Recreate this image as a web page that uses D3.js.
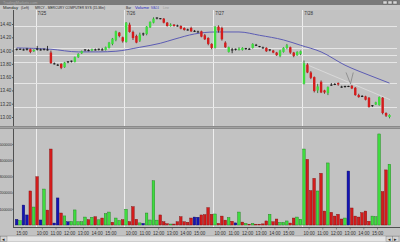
<!DOCTYPE html>
<html lang="en">
<head>
<meta charset="UTF-8">
<script src="https://cdn.jsdelivr.net/npm/d3@7"></script>
<title>MRCY 15-Min</title>
<style>
body { margin: 0; background: #c2c2c2; }
svg { display: block; font-family: "Liberation Sans Narrow", "Liberation Sans", Arial, sans-serif; }
</style>
</head>
<body>
<svg id="chart" width="400" height="242"></svg>
<script>
// --- data ---
let days = ['7/24', '7/25', '7/26', '7/27', '7/28']
let barsPerDay = [6, 26, 26, 26, 26]
let dayStartMin = [14 * 60 + 30, 9 * 60 + 30, 9 * 60 + 30, 9 * 60 + 30, 9 * 60 + 30]
let hourLabels = ['10:00', '11:00', '12:00', '13:00', '14:00', '15:00']

let open = [
	14.01, 14.02, 14.02, 14.01, 14.02, 13.99,
	14.01, 14.02, 14.01, 14.02, 13.97, 13.81, 13.79, 13.80, 13.75, 13.82, 13.83, 13.83, 13.90, 13.96, 14.00, 14.01, 14.00, 14.02, 14.01, 14.02, 14.01, 14.04, 14.10, 14.16, 14.27, 14.20,
	14.13, 14.39, 14.28, 14.22, 14.15, 14.24, 14.25, 14.35, 14.42, 14.48, 14.48, 14.48, 14.42, 14.37, 14.39, 14.38, 14.37, 14.34, 14.31, 14.34, 14.29, 14.29, 14.29, 14.23, 14.19, 14.10,
	14.04, 14.36, 14.34, 14.12, 13.98, 14.01, 14.02, 14.01, 14.01, 14.03, 14.03, 14.04, 14.09, 14.07, 14.05, 14.04, 14.00, 14.00, 13.97, 13.92, 13.98, 14.04, 14.05, 13.97, 13.93, 13.95,
	13.50, 13.79, 13.67, 13.60, 13.40, 13.53, 13.40, 13.36, 13.49, 13.50, 13.51, 13.46, 13.45, 13.46, 13.47, 13.44, 13.33, 13.32, 13.31, 13.29, 13.16, 13.19, 13.18, 13.29, 13.06, 13.00
]
let close = [
	14.02, 14.02, 14.01, 14.02, 13.98, 14.01,
	14.02, 14.01, 14.02, 14.01, 13.81, 13.80, 13.78, 13.74, 13.82, 13.83, 13.84, 13.90, 13.95, 13.99, 14.01, 14.00, 14.02, 14.01, 14.02, 14.01, 14.05, 14.12, 14.18, 14.29, 14.22, 14.14,
	14.42, 14.28, 14.19, 14.12, 14.24, 14.25, 14.36, 14.43, 14.48, 14.49, 14.48, 14.42, 14.37, 14.39, 14.37, 14.37, 14.33, 14.31, 14.31, 14.29, 14.29, 14.28, 14.21, 14.17, 14.10, 14.04,
	14.36, 14.30, 14.17, 14.05, 14.05, 14.01, 14.02, 14.03, 14.04, 14.03, 14.02, 14.10, 14.08, 14.06, 14.04, 13.99, 14.01, 13.97, 13.93, 14.00, 14.04, 14.08, 13.97, 13.92, 13.98, 13.99,
	13.81, 13.67, 13.59, 13.39, 13.46, 13.37, 13.37, 13.45, 13.48, 13.49, 13.49, 13.45, 13.46, 13.46, 13.43, 13.33, 13.30, 13.31, 13.26, 13.15, 13.17, 13.22, 13.30, 13.06, 13.02, 13.03
]
let high = [
	14.03, 14.03, 14.03, 14.04, 14.03, 14.02,
	14.07, 14.03, 14.03, 14.07, 14.00, 13.82, 13.80, 13.81, 13.83, 13.84, 13.85, 13.91, 13.96, 14.00, 14.02, 14.02, 14.03, 14.03, 14.03, 14.04, 14.06, 14.13, 14.19, 14.30, 14.28, 14.21,
	14.43, 14.42, 14.30, 14.24, 14.27, 14.27, 14.37, 14.44, 14.50, 14.50, 14.49, 14.49, 14.43, 14.41, 14.40, 14.39, 14.38, 14.35, 14.33, 14.36, 14.31, 14.30, 14.30, 14.25, 14.20, 14.11,
	14.37, 14.38, 14.36, 14.14, 14.06, 14.04, 14.03, 14.05, 14.05, 14.04, 14.04, 14.11, 14.10, 14.07, 14.06, 14.05, 14.02, 14.01, 13.98, 14.01, 14.05, 14.10, 14.06, 13.98, 13.99, 14.00,
	13.85, 13.81, 13.69, 13.61, 13.50, 13.55, 13.41, 13.46, 13.51, 13.51, 13.52, 13.47, 13.47, 13.47, 13.48, 13.45, 13.35, 13.33, 13.32, 13.30, 13.18, 13.23, 13.31, 13.30, 13.07, 13.04
]
let low = [
	14.00, 14.01, 14.00, 14.00, 13.96, 13.98,
	14.00, 14.00, 14.00, 14.00, 13.80, 13.79, 13.77, 13.72, 13.74, 13.81, 13.82, 13.82, 13.89, 13.95, 13.99, 13.99, 13.99, 14.00, 14.00, 14.00, 14.00, 14.03, 14.08, 14.14, 14.20, 14.12,
	14.12, 14.27, 14.16, 14.11, 14.13, 14.22, 14.23, 14.34, 14.41, 14.47, 14.47, 14.41, 14.36, 14.36, 14.36, 14.36, 14.32, 14.30, 14.30, 14.28, 14.28, 14.27, 14.20, 14.16, 14.08, 14.02,
	14.03, 14.27, 14.15, 14.04, 13.97, 13.96, 14.00, 14.00, 14.00, 14.01, 14.01, 14.03, 14.07, 14.05, 14.03, 13.98, 13.99, 13.96, 13.92, 13.90, 13.97, 14.02, 13.95, 13.90, 13.92, 13.93,
	13.49, 13.66, 13.57, 13.37, 13.36, 13.36, 13.35, 13.33, 13.47, 13.48, 13.47, 13.44, 13.44, 13.45, 13.42, 13.32, 13.29, 13.30, 13.25, 13.14, 13.15, 13.18, 13.17, 13.04, 13.00, 12.98
]
let volume = [
	35000, 27000, 123000, 62000, 210000, 111000,
	298000, 31000, 222000, 92000, 469000, 12000, 167000, 74000, 56000, 20000, 22000, 93000, 20000, 20000, 49000, 33000, 48000, 51000, 32000, 43000, 70000, 80000, 17000, 43000, 28000, 33000,
	97000, 21000, 113000, 35000, 13000, 10000, 74000, 31000, 273000, 30000, 62000, 20000, 8000, 6000, 6000, 20000, 51000, 20000, 17000, 43000, 49000, 48000, 62000, 64000, 107000, 66000,
	68000, 10000, 55000, 30000, 46000, 23000, 13000, 80000, 18000, 10000, 5000, 10000, 5000, 5000, 7000, 25000, 66000, 20000, 37000, 16000, 16000, 25000, 12000, 43000, 49000, 35000,
	469000, 405000, 212000, 288000, 210000, 319000, 86000, 383000, 78000, 55000, 66000, 37000, 43000, 333000, 105000, 55000, 49000, 76000, 86000, 23000, 55000, 51000, 562000, 206000, 340000, 375000
]
// g = up, r = down, b = unchanged
let volColor = ('bgbbrg' + 'rbgrrbbrgbgggggrgrgrggrggr' + 'grrrgbggggrrrgrrrrrrbbrrrr' +
	'grrrgrbgrgrgrrrrgrrgggrrgg' + 'grrrgrrgrrrrgbrrrrrrgggrrg').split('')

// moving average read at a few bars
let maBar = [0, 10, 18, 24, 29, 36, 42, 46, 52, 58, 65, 71, 78, 83, 89, 96, 103, 109]
let maVal = [14.04, 14.02, 13.98, 13.98, 13.99, 14.05, 14.11, 14.17, 14.25, 14.28, 14.28, 14.23, 14.16, 14.08, 13.98, 13.78, 13.63, 13.51]

// drawn horizontal levels and lines
let levels = [14.37, 14.04, 13.93, 13.83, 13.51, 13.15]
let trendLine = [[84.3, 13.81], [109.7, 13.26]]
let vMark = [[96.8, 13.67], [98.1, 13.50], [98.9, 13.67]]

let priceTicks = [13.00, 13.20, 13.40, 13.60, 13.80, 14.00, 14.20, 14.40]
let volTicks = [100000, 200000, 300000, 400000, 500000]

// --- drawing ---
let N = open.length
let svg = d3.select('#chart')
let fnt = 4.5

let x = d3.scaleLinear().domain([0, N]).range([15, 391.2])
let y = d3.scaleLinear().domain([13, 14.4]).range([117, 24])
let yv = d3.scaleLinear().domain([0, 500000]).range([225, 144])
let bw = x(1) - x(0)

let green = '#3fdc3f', red = '#d41c1c', blue = '#1414b4'
let cols = { g: green, r: red, b: blue }
let dark = { g: '#1b7a1b', r: '#7a0c0c', b: '#0a0a60' }

svg.append('rect').attr('width', 400).attr('height', 242).attr('fill', '#c2c2c2')

// title strip
svg.append('rect').attr('width', 400).attr('height', 5).attr('fill', '#7c7c7c')
svg.append('text').attr('x', 3).attr('y', 4).attr('font-size', 3.8).attr('fill', '#a8a8a8')
	.text('TradingMarkets.com')
;[383, 388, 393].forEach(function (bx) {
	svg.append('rect').attr('x', bx).attr('y', 1).attr('width', 4).attr('height', 3)
		.attr('fill', '#d8d8d8').attr('stroke', '#555').attr('stroke-width', 0.4)
})
svg.append('rect').attr('y', 5).attr('width', 400).attr('height', 5).attr('fill', '#c8c8c8')
let head = [
	{ t: 'Monday', x: 3, w: 15, c: '#222' },
	{ t: '(Left)', x: 21, w: 8, c: '#222' },
	{ t: 'MRCY - MERCURY COMPUTER SYS (15-Min)', x: 35, w: 70, c: '#222' },
	{ t: 'Bar', x: 126, w: 5, c: '#222' },
	{ t: 'Volume', x: 135, w: 14, c: '#2020c0' },
	{ t: 'MA24', x: 151, w: 8, c: '#5050c0' },
	{ t: 'Line', x: 163, w: 6, c: '#9a9a9a' }
]
head.forEach(function (h) {
	svg.append('text').attr('x', h.x).attr('y', 9.2).attr('font-size', 4).attr('fill', h.c)
		.attr('textLength', h.w).attr('lengthAdjust', 'spacingAndGlyphs').text(h.t)
})

// panels
let defs = svg.append('defs')
defs.append('clipPath').attr('id', 'cp').append('rect')
	.attr('x', 14).attr('y', 10).attr('width', 383).attr('height', 116)
defs.append('clipPath').attr('id', 'cv').append('rect')
	.attr('x', 14).attr('y', 129).attr('width', 383).attr('height', 98)

// day boundaries
let dayFirst = []
let acc = 0
barsPerDay.forEach(function (n) { dayFirst.push(acc); acc += n })

let grid = svg.append('g').attr('stroke', '#eeeeee').attr('stroke-width', 1)
dayFirst.slice(1).forEach(function (i) {
	let xx = Math.round(x(i)) + 0.5
	grid.append('line').attr('x1', xx).attr('x2', xx).attr('y1', 10).attr('y2', 126)
	grid.append('line').attr('x1', xx).attr('x2', xx).attr('y1', 129).attr('y2', 227)
})
dayFirst.slice(1).forEach(function (i, k) {
	svg.append('text').attr('x', x(i) + 2).attr('y', 14.5).attr('font-size', fnt)
		.attr('fill', '#333').text(days[k + 1])
})

let pp = svg.append('g').attr('clip-path', 'url(#cp)')
levels.forEach(function (v) {
	let yy = Math.round(y(v)) + 0.5
	pp.append('line').attr('x1', 14).attr('x2', 397).attr('y1', yy).attr('y2', yy)
		.attr('stroke', '#e6e6e6').attr('stroke-width', 1)
})
pp.append('line')
	.attr('x1', x(trendLine[0][0])).attr('y1', y(trendLine[0][1]))
	.attr('x2', x(trendLine[1][0])).attr('y2', y(trendLine[1][1]))
	.attr('stroke', '#dedede').attr('stroke-width', 0.8)

// moving average
let maLine = d3.line()
	.x(function (d, k) { return x(maBar[k] + 0.5) })
	.y(function (d) { return y(d) })
	.curve(d3.curveMonotoneX)
pp.append('path').attr('d', maLine(maVal)).attr('fill', 'none')
	.attr('stroke', '#5c5cb4').attr('stroke-width', 1)

// candles
let candles = pp.selectAll('g.c').data(d3.range(N)).join('g').attr('class', 'c')
candles.each(function (i) {
	let g = d3.select(this)
	let cx = x(i + 0.5)
	let o = open[i], c = close[i]
	let flat = Math.abs(o - c) < 0.015
	let up = c > o
	let wc = flat ? '#111' : (up ? '#167016' : '#6a0a0a')
	g.append('line').attr('x1', cx).attr('x2', cx).attr('y1', y(high[i])).attr('y2', y(low[i]))
		.attr('stroke', wc).attr('stroke-width', 0.8)
	if (flat) {
		g.append('line').attr('x1', cx - 1.2).attr('x2', cx + 1.2).attr('y1', y(c)).attr('y2', y(c))
			.attr('stroke', '#111').attr('stroke-width', 0.9)
	} else {
		let y0 = y(Math.max(o, c)), y1 = y(Math.min(o, c))
		g.append('rect').attr('x', cx - 1.2).attr('width', 2.4)
			.attr('y', y0).attr('height', Math.max(1, y1 - y0))
			.attr('fill', up ? green : red)
	}
})

// V mark
pp.append('path').attr('d', d3.line().x(function (d) { return x(d[0]) }).y(function (d) { return y(d[1]) })(vMark))
	.attr('fill', 'none').attr('stroke', '#707070').attr('stroke-width', 0.6)

// panel separator
svg.append('rect').attr('x', 0).attr('y', 126).attr('width', 400).attr('height', 3).attr('fill', '#8a8a8a')
svg.append('line').attr('x1', 0).attr('x2', 400).attr('y1', 127.5).attr('y2', 127.5)
	.attr('stroke', '#b0b0b0').attr('stroke-width', 0.6)

// volume bars
let vp = svg.append('g').attr('clip-path', 'url(#cv)')
vp.selectAll('rect').data(volume).join('rect')
	.attr('x', function (d, i) { return x(i) + 0.3 })
	.attr('width', bw - 0.8)
	.attr('y', function (d) { return yv(d) })
	.attr('height', function (d) { return yv(0) - yv(d) })
	.attr('fill', function (d, i) { return cols[volColor[i]] })
	.attr('stroke', function (d, i) { return dark[volColor[i]] })
	.attr('stroke-width', 0.4)

// axes
let ay = svg.append('g').attr('transform', 'translate(13.5,0)')
	.call(d3.axisLeft(y).tickValues(priceTicks).tickFormat(d3.format('.2f')).tickSize(1.5).tickPadding(0.8))
let av = svg.append('g').attr('transform', 'translate(13.5,0)')
	.call(d3.axisLeft(yv).tickValues(volTicks).tickFormat(d3.format('d')).tickSize(1).tickPadding(0.4))
ay.selectAll('text').attr('font-size', fnt)
av.selectAll('text').attr('font-size', 3.9)
;[ay, av].forEach(function (a) {
	a.select('.domain').remove()
	a.selectAll('text').attr('fill', '#333')
		.attr('font-family', '"Liberation Sans Narrow", "Liberation Sans", sans-serif')
	a.selectAll('line').attr('stroke', '#555')
})
svg.append('line').attr('x1', 13.5).attr('x2', 13.5).attr('y1', 10).attr('y2', 126)
	.attr('stroke', '#505050').attr('stroke-width', 1)
svg.append('line').attr('x1', 13.5).attr('x2', 13.5).attr('y1', 129).attr('y2', 228)
	.attr('stroke', '#505050').attr('stroke-width', 1)
svg.append('line').attr('x1', 13).attr('x2', 400).attr('y1', 227.5).attr('y2', 227.5)
	.attr('stroke', '#505050').attr('stroke-width', 1)

// time labels
let tl = svg.append('g').attr('font-size', fnt).attr('fill', '#333').attr('text-anchor', 'middle')
days.forEach(function (d, k) {
	hourLabels.forEach(function (h) {
		let p = h.split(':')
		let off = (+p[0] * 60 + +p[1] - dayStartMin[k]) / 15
		if (off < 0 || off >= barsPerDay[k]) return
		let xx = x(dayFirst[k] + off)
		tl.append('line').attr('x1', xx).attr('x2', xx).attr('y1', 227.5).attr('y2', 229.5)
			.attr('stroke', '#555').attr('stroke-width', 0.6)
		tl.append('text').attr('x', xx).attr('y', 234.5).text(h)
	})
})

// scroll bar
svg.append('rect').attr('x', 0).attr('y', 236).attr('width', 400).attr('height', 6).attr('fill', '#e4e4e4')
	.attr('stroke', '#8a8a8a').attr('stroke-width', 0.5)
;[[0.5, '\u25C2'], [386, '\u25C2'], [392.5, '\u25B8']].forEach(function (b) {
	svg.append('rect').attr('x', b[0]).attr('y', 236.5).attr('width', 6.5).attr('height', 5)
		.attr('fill', '#d4d4d4').attr('stroke', '#777').attr('stroke-width', 0.4)
	svg.append('text').attr('x', b[0] + 3.25).attr('y', 240.8).attr('font-size', 5)
		.attr('text-anchor', 'middle').attr('fill', '#222').text(b[1])
})
</script>
</body>
</html>
